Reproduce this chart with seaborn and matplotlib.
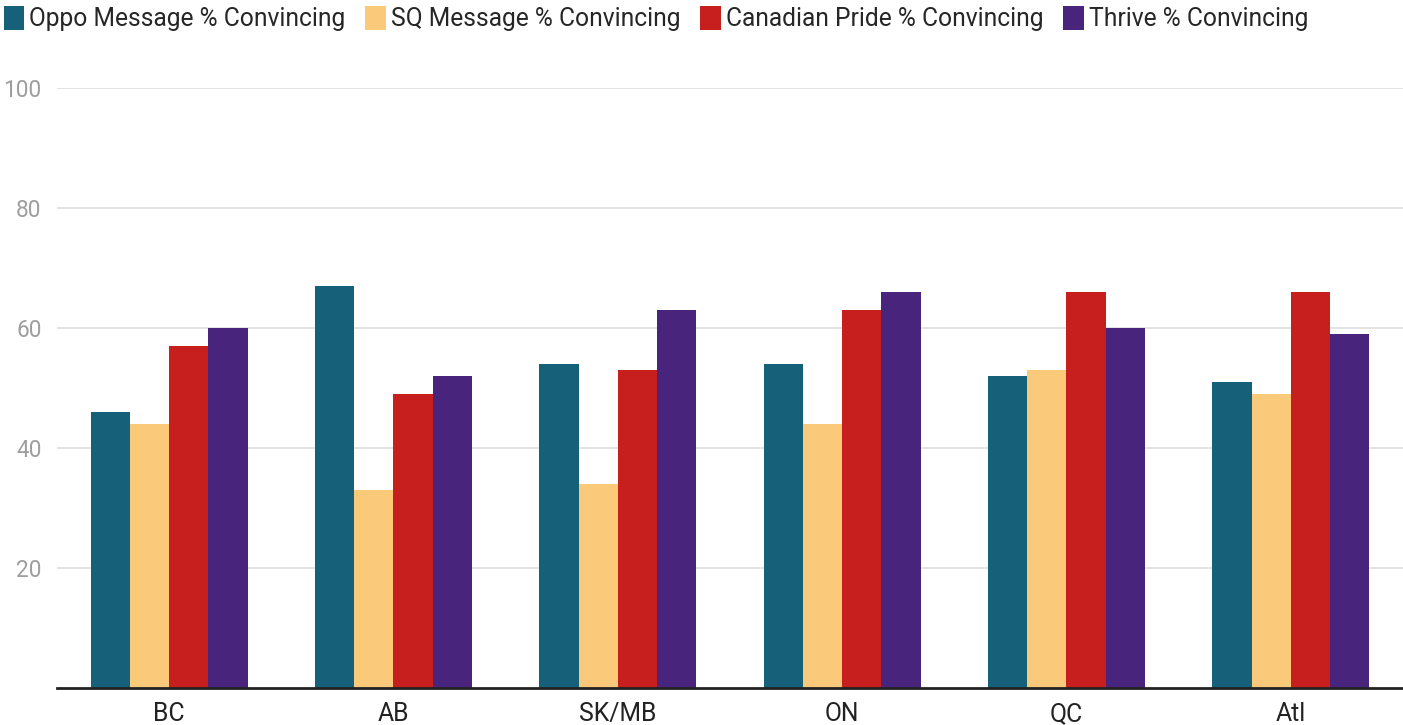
import pandas as pd
import matplotlib.pyplot as plt
import seaborn as sns
from matplotlib.patches import Patch

# Dados
regions = ["BC", "AB", "SK/MB", "ON", "QC", "Atl"]
series = ["Oppo Message % Convincing", "SQ Message % Convincing",
          "Canadian Pride % Convincing", "Thrive % Convincing"]
oppo = [46, 67, 54, 54, 52, 51]
sq = [44, 33, 34, 44, 53, 49]
pride = [57, 49, 53, 63, 66, 66]
thrive = [60, 52, 63, 66, 60, 59]
colors = ["#17607A", "#FBC97A", "#C71E1E", "#49247D"]

rows = []
for name, vals in zip(series, [oppo, sq, pride, thrive]):
    for r, v in zip(regions, vals):
        rows.append({"Region": r, "Series": name, "Value": v})
df = pd.DataFrame(rows)

sns.set_style("white")
plt.rcParams['font.family'] = ['Roboto', 'DejaVu Sans']

fig = plt.figure(figsize=(14.03, 7.25), dpi=100)
ax = fig.add_axes([0.0406, 0.051, 0.9594, 0.8276])

sns.barplot(data=df, x="Region", y="Value", hue="Series", hue_order=series,
            palette=colors, width=0.7, saturation=1, linewidth=0,
            legend=False, ax=ax)

ax.set_ylim(0, 100)
ax.set_xlim(-0.5, 5.5)
ax.set_yticks([20, 40, 60, 80, 100])
ax.yaxis.grid(True, color="#e0e0e0", linewidth=1.3)
ax.set_axisbelow(True)
for s in ["top", "right", "left"]:
    ax.spines[s].set_visible(False)
ax.spines["bottom"].set_color("#222222")
ax.spines["bottom"].set_linewidth(2)
ax.tick_params(axis="y", length=0, labelsize=16.3, labelcolor="#9e9e9e", pad=11)
ax.tick_params(axis="x", length=0, labelsize=17.8, labelcolor="#222222", pad=10)
ax.set_xlabel("")
ax.set_ylabel("")

handles = [Patch(facecolor=c, edgecolor="none") for c in colors]
fig.legend(handles, series, loc="upper left", bbox_to_anchor=(-0.008, 1.012), ncol=4,
           frameon=False, fontsize=17.7, handlelength=0.85, handleheight=1.1,
           handletextpad=0.2, columnspacing=0.8, borderaxespad=0.2)

fig.savefig("out.png", dpi=100)
